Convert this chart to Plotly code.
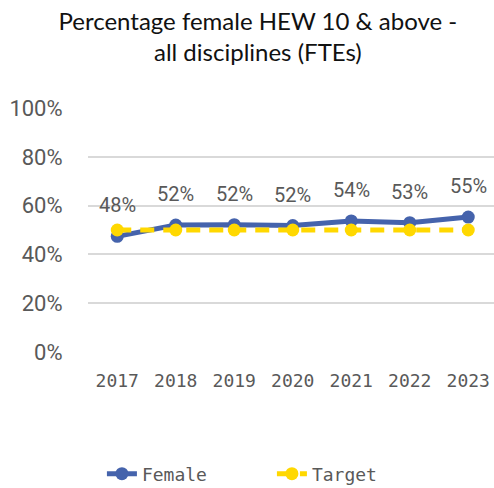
import plotly.graph_objects as go

years = ["2017", "2018", "2019", "2020", "2021", "2022", "2023"]
female = [0.474, 0.52, 0.522, 0.518, 0.537, 0.53, 0.553]
female_labels = ["48%", "52%", "52%", "52%", "54%", "53%", "55%"]
target = [0.50, 0.50, 0.50, 0.50, 0.50, 0.50, 0.50]
y_ticks = [0, 0.2, 0.4, 0.6, 0.8, 1.0]
y_tick_text = ["0%", "20%", "40%", "60%", "80%", "100%"]

blue = "#4563AC"
yellow = "#FFD800"
grey = "#595959"

fig = go.Figure()
fig.add_trace(go.Scatter(
    x=years, y=female, name="Female", mode="lines+markers",
    line=dict(color=blue, width=5), marker=dict(color=blue, size=13),
))
fig.add_trace(go.Scatter(
    x=years, y=target, name="Target", mode="lines+markers",
    line=dict(color=yellow, width=5, dash="14px,9px"), marker=dict(color=yellow, size=13),
))
for i, (v, lab) in enumerate(zip(female, female_labels)):
    fig.add_annotation(x=i, y=v, text=lab, showarrow=False, yshift=31,
                       font=dict(family="Roboto", size=20, color=grey))

fig.update_layout(
    width=494, height=488,
    paper_bgcolor="white", plot_bgcolor="white",
    margin=dict(l=88, r=0, t=108, b=136, autoexpand=False),
    title=dict(text="Percentage female HEW 10 & above -<br>all disciplines (FTEs)",
               xref="container", x=0.522, xanchor="center",
               yref="container", y=0.938, yanchor="middle",
               font=dict(family="Lato", size=24, color="#111111")),
    showlegend=True,
    legend=dict(orientation="h", x=0.453, xanchor="center", y=-0.50, yanchor="middle",
                entrywidth=125, entrywidthmode="pixels",
                font=dict(family="DejaVu Sans Mono", size=18, color=grey)),
)
fig.update_xaxes(type="category", range=[-0.5, 6.44], showgrid=False, showline=False,
                 ticks="outside", ticklen=12, tickcolor="white",
                 tickfont=dict(family="DejaVu Sans Mono", size=18, color=grey))
fig.update_yaxes(range=[0, 1.0], tickvals=y_ticks, ticktext=y_tick_text,
                 showgrid=True, gridcolor="#D9D9D9", gridwidth=1.5, zeroline=False,
                 ticks="outside", ticklen=20, tickcolor="white",
                 tickfont=dict(family="Roboto", size=22, color=grey))
fig.write_html("out.html", config={"displayModeBar": False},
               post_script="document.body.style.margin='0';document.body.style.overflow='hidden';")
